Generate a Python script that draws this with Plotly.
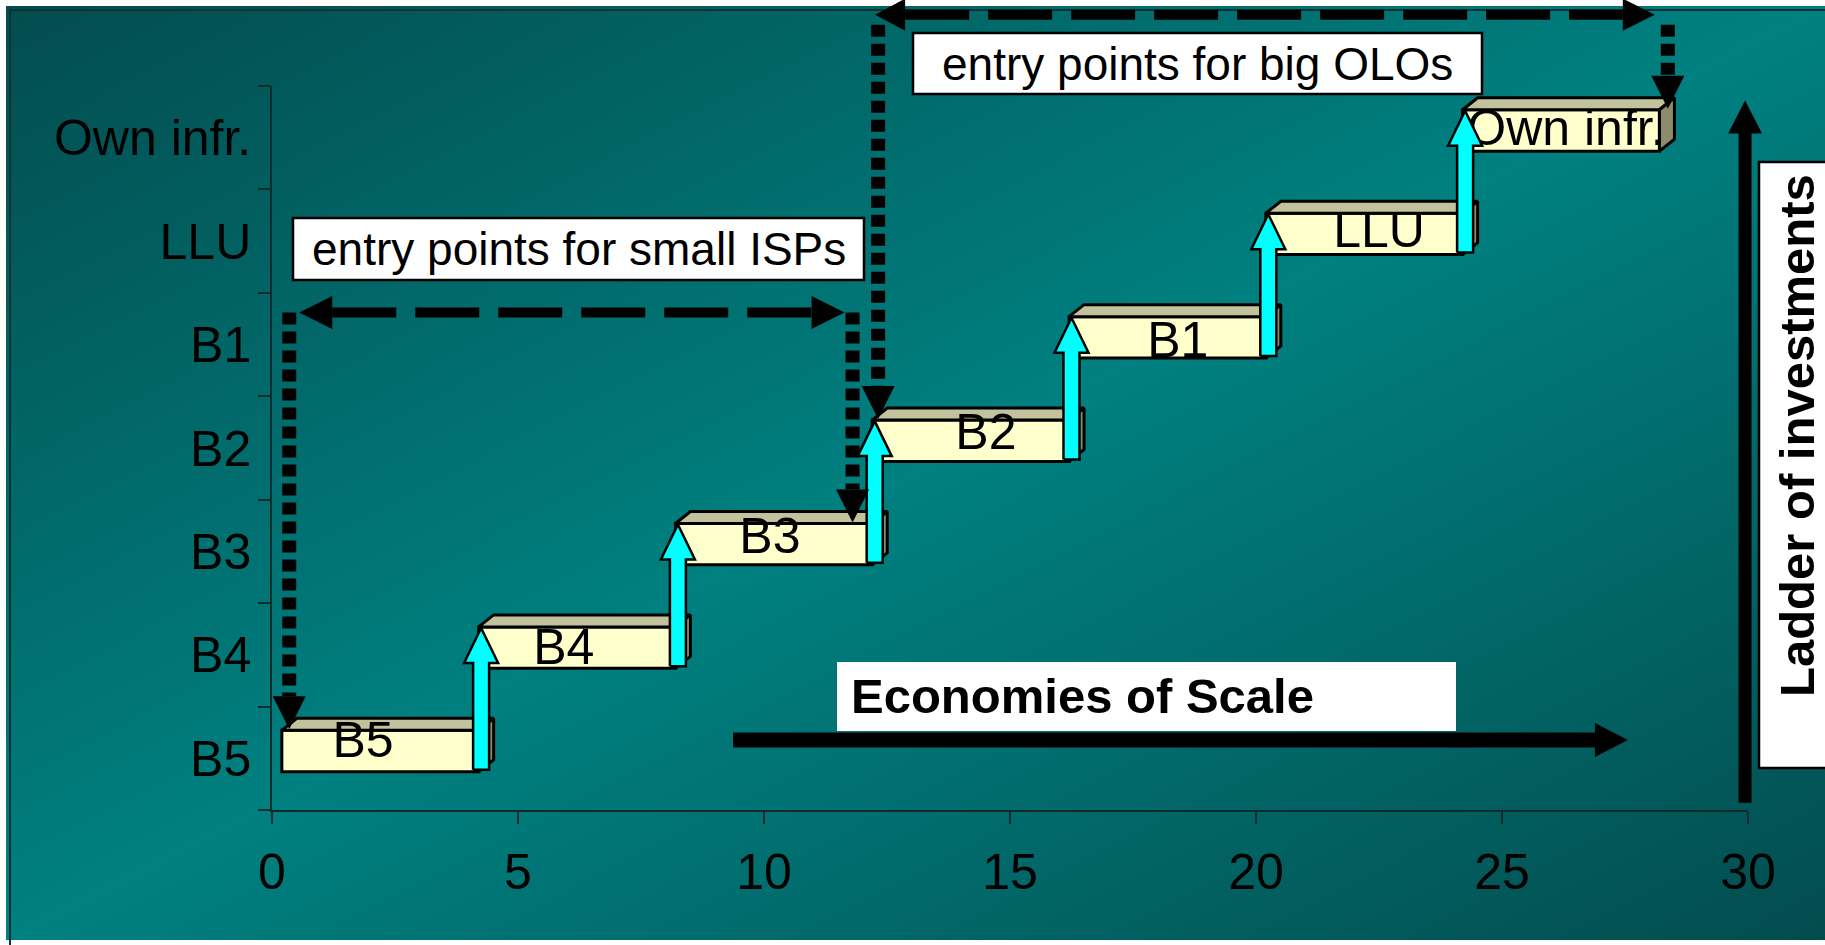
import base64
import plotly.graph_objects as go

# ---------------- data ----------------
levels = ["B5", "B4", "B3", "B2", "B1", "LLU", "Own infr."]
step_start = [0.2, 4.2, 8.2, 12.2, 16.2, 20.2, 24.2]
step_end = [4.2, 8.2, 12.2, 16.2, 20.2, 24.2, 28.2]
x_tick_values = [0, 5, 10, 15, 20, 25, 30]

small_isp_label = "entry points for small ISPs"
small_isp_x = [0.35, 11.8]
small_isp_to = ["B5", "B3"]
big_olo_label = "entry points for big OLOs"
big_olo_x = [12.32, 28.37]
big_olo_to = ["B2", "Own infr."]

x_axis_label = "Economies of Scale"
y_axis_label = "Ladder of investments"
economies_x = [9.37, 27.56]
ladder_y = [0.07, 6.86]

# ---------------- geometry / style ----------------
W, H = 1825, 945
PL, PR, PT, PB = 272, 1748, 86, 810
XR = [0, 30]
YR = [0, len(levels)]
UX = (PR - PL) / (XR[1] - XR[0])
UY = (PB - PT) / (YR[1] - YR[0])


def dx(px):
    return px / UX


def dy(px):
    return px / UY


X2 = [XR[0] - PL / UX, XR[1] + (W - PR) / UX]
Y2 = [YR[0] - (H - PB) / UY, YR[1] + PT / UY]

FONT = "Liberation Sans, Arial, Helvetica, sans-serif"
FACE_BOT, FACE_H = 0.37, 0.40
DEPTH_X, DEPTH_Y = dx(15), dy(12)
FRONT = "#FFFFCC"
TOP = "#C2C29C"
SIDE = "#8C8C6C"
CYAN = "#00FFFF"
OUT_W = 3
LABEL_DX = [-0.35, -0.27, -0.08, 0.31, 0.21, 0.30, 0.10]
LABEL_DY = [0.63, 0.53, 0.61, 0.61, 0.50, 0.56, 0.55]
Y_SMALL = 4.81
Y_BIG = 7.69
TICK_FONT = 50


def px_x(p):
    return p / W


def px_y(p):
    return 1 - p / H


fig = go.Figure()

# front faces of the steps (horizontal bars)
fig.add_trace(go.Bar(
    orientation="h",
    y=[k + FACE_BOT + FACE_H / 2 for k in range(len(levels))],
    x=[e - s for s, e in zip(step_start, step_end)],
    base=step_start,
    width=FACE_H,
    marker=dict(color=FRONT, line=dict(color="black", width=OUT_W)),
    hoverinfo="skip", showlegend=False, xaxis="x", yaxis="y",
))

# top and side faces (3D effect)
for k, (s, e) in enumerate(zip(step_start, step_end)):
    top = k + FACE_BOT + FACE_H
    bot = k + FACE_BOT
    fig.add_trace(go.Scatter(
        x=[s, s + DEPTH_X, e + DEPTH_X, e, s],
        y=[top, top + DEPTH_Y, top + DEPTH_Y, top, top],
        fill="toself", fillcolor=TOP, mode="lines",
        line=dict(color="black", width=OUT_W),
        hoverinfo="skip", showlegend=False, xaxis="x", yaxis="y"))
    fig.add_trace(go.Scatter(
        x=[e, e + DEPTH_X, e + DEPTH_X, e, e],
        y=[top, top + DEPTH_Y, bot + DEPTH_Y, bot, top],
        fill="toself", fillcolor=SIDE, mode="lines",
        line=dict(color="black", width=OUT_W),
        hoverinfo="skip", showlegend=False, xaxis="x", yaxis="y"))

# step labels
fig.add_trace(go.Scatter(
    x=[(s + e) / 2 + LABEL_DX[k] for k, (s, e) in enumerate(zip(step_start, step_end))],
    y=[k + LABEL_DY[k] for k in range(len(levels))],
    text=levels, mode="text", textposition="middle center",
    textfont=dict(family=FONT, size=TICK_FONT, color="black"),
    cliponaxis=False, hoverinfo="skip", showlegend=False, xaxis="x", yaxis="y"))


def up_arrow(xc, y0, y1, shaft_px, head_w_px, head_l_px):
    sw, hw, hl = dx(shaft_px / 2), dx(head_w_px / 2), dy(head_l_px)
    xs = [xc - sw, xc + sw, xc + sw, xc + hw, xc, xc - hw, xc - sw, xc - sw]
    ys = [y0, y0, y1 - hl, y1 - hl, y1, y1 - hl, y1 - hl, y0]
    return xs, ys


def poly(xs, ys, fill, lw=0, lc="black"):
    fig.add_trace(go.Scatter(
        x=xs, y=ys, fill="toself", fillcolor=fill, mode="lines",
        line=dict(color=lc, width=lw),
        hoverinfo="skip", showlegend=False, xaxis="x2", yaxis="y2"))


def line(xs, ys, width, dash="solid"):
    fig.add_trace(go.Scatter(
        x=xs, y=ys, mode="lines", line=dict(color="black", width=width, dash=dash),
        hoverinfo="skip", showlegend=False, xaxis="x2", yaxis="y2"))


# cyan climbing arrows
for k in range(len(levels) - 1):
    xs, ys = up_arrow(step_end[k] + 0.05, k + 0.39, k + 1 + 0.76, 16, 34, 35)
    poly(xs, ys, CYAN, lw=2.5)


def h_head(tip_x, y, direction, length_px=33, height_px=33):
    base = tip_x - direction * dx(length_px)
    h = dy(height_px / 2)
    poly([tip_x, base, base, tip_x], [y, y + h, y - h, y], "black")
    return base


def v_head_down(x, tip_y, length_px=33, width_px=33):
    base = tip_y + dy(length_px)
    w = dx(width_px / 2)
    poly([x, x - w, x + w, x], [tip_y, base, base, tip_y], "black")
    return base


DASH = "64px,19px"
DOT = "12px,7px"

# small ISPs bracket
lb = h_head(small_isp_x[0] + dx(10), Y_SMALL, -1)
rb = h_head(small_isp_x[1] - dx(8), Y_SMALL, 1)
line([lb, rb], [Y_SMALL, Y_SMALL], 10, DASH)
for xv, target in zip(small_isp_x, small_isp_to):
    tip = levels.index(target) + 0.78
    base = v_head_down(xv, tip)
    line([xv, xv], [Y_SMALL, base], 14, DOT)

# big OLOs bracket
lb = h_head(big_olo_x[0] - dx(3), Y_BIG, -1, 30, 32)
rb = h_head(big_olo_x[1] - dx(13), Y_BIG, 1, 32, 32)
line([lb, rb], [Y_BIG, Y_BIG], 10, DASH)
for xv, target in zip(big_olo_x, big_olo_to):
    tip = levels.index(target) + 0.78
    base = v_head_down(xv, tip)
    line([xv, xv], [Y_BIG - dy(10), base], 14, DOT)

# Economies of scale arrow
eb = h_head(economies_x[1], 0.677, 1, 33, 34)
line([economies_x[0], eb], [0.677, 0.677], 15)

# Ladder of investments arrow
lx = 29.94
xs, ys = up_arrow(lx, ladder_y[1] - dy(33) + 0.01, ladder_y[1], 0.1, 34, 33)
poly(xs, ys, "black")
line([lx, lx], [ladder_y[0], ladder_y[1] - dy(32)], 13)

# ---------------- background gradient ----------------
bw, bh = W - 6, 940 - 6
svg = (
    f'<svg xmlns="http://www.w3.org/2000/svg" width="{bw}" height="{bh}" '
    f'viewBox="0 0 {bw} {bh}" preserveAspectRatio="none">'
    '<defs><linearGradient id="g" x1="0" y1="0" x2="1" y2="1">'
    '<stop offset="0" stop-color="#034C4E"/>'
    '<stop offset="0.5" stop-color="#008080"/>'
    '<stop offset="1" stop-color="#034C4E"/>'
    '</linearGradient></defs>'
    f'<rect x="0" y="0" width="{bw}" height="{bh}" fill="url(#g)"/></svg>'
)
src = "data:image/svg+xml;base64," + base64.b64encode(svg.encode()).decode()

shapes = [
    dict(type="path", xref="paper", yref="paper",
         path=f"M {px_x(10)} {px_y(945)} L {px_x(10)} {px_y(10)} L 1 {px_y(10)}",
         line=dict(color="#0E3232", width=2), layer="below"),
]


def rect(x0, y0, x1, y1, border=True):
    shapes.append(dict(type="rect", xref="paper", yref="paper",
                       x0=px_x(x0), x1=px_x(x1), y0=px_y(y1), y1=px_y(y0),
                       fillcolor="white",
                       line=dict(color="black", width=2.5 if border else 0),
                       layer="above"))


rect(293, 218, 864, 280)
rect(913, 33, 1482, 94)
rect(837, 662, 1456, 731, border=False)
rect(1759, 162, 1840, 768)

annotations = [
    dict(x=px_x(578.5), y=px_y(249), xref="paper", yref="paper", text=small_isp_label,
         showarrow=False, xanchor="center", yanchor="middle",
         font=dict(family=FONT, size=46, color="black")),
    dict(x=px_x(1197.5), y=px_y(63.5), xref="paper", yref="paper", text=big_olo_label,
         showarrow=False, xanchor="center", yanchor="middle",
         font=dict(family=FONT, size=46, color="black")),
    dict(x=px_x(849), y=px_y(696), xref="paper", yref="paper",
         text="<b>" + x_axis_label + "</b>",
         showarrow=False, xanchor="left", yanchor="middle",
         font=dict(family=FONT, size=49, color="black")),
    dict(x=px_x(1797), y=px_y(436), xref="paper", yref="paper",
         text="<b>" + y_axis_label + "</b>", textangle=-90,
         showarrow=False, xanchor="center", yanchor="middle",
         font=dict(family=FONT, size=49, color="black")),
]

AX_COLOR = "#102C2C"
fig.update_layout(
    width=W, height=H, margin=dict(l=0, r=0, t=0, b=0),
    paper_bgcolor="white", plot_bgcolor="rgba(0,0,0,0)",
    showlegend=False, hovermode=False, barmode="overlay",
    font=dict(family=FONT, color="black"),
    xaxis=dict(domain=[PL / W, PR / W], range=XR, tickmode="array",
               tickvals=x_tick_values, ticks="outside", ticklen=12,
               tickcolor=AX_COLOR, tickwidth=1.5, showline=True,
               linecolor=AX_COLOR, linewidth=1.5, showgrid=False, zeroline=False,
               tickfont=dict(family=FONT, size=TICK_FONT, color="black"),
               ticklabelstandoff=5, automargin=False, fixedrange=True),
    yaxis=dict(domain=[1 - PB / H, 1 - PT / H], range=YR, tickmode="array",
               tickvals=[k + 0.5 for k in range(len(levels))], ticktext=levels,
               ticks="", showline=True, linecolor=AX_COLOR, linewidth=1.5,
               minor=dict(tickmode="array", tickvals=list(range(len(levels) + 1)),
                          ticks="outside", ticklen=12, tickcolor=AX_COLOR,
                          tickwidth=1.5, showgrid=False),
               showgrid=False, zeroline=False,
               tickfont=dict(family=FONT, size=TICK_FONT, color="black"),
               ticklabelstandoff=9, automargin=False, fixedrange=True),
    xaxis2=dict(domain=[0, 1], range=X2, anchor="y2", visible=False, fixedrange=True),
    yaxis2=dict(domain=[0, 1], range=Y2, anchor="x2", visible=False, fixedrange=True),
    images=[dict(source=src, xref="paper", yref="paper", x=px_x(6), y=px_y(6),
                 sizex=bw / W, sizey=bh / H, xanchor="left", yanchor="top",
                 sizing="stretch", layer="below")],
    shapes=shapes,
    annotations=annotations,
)

fig.write_html("out.html", config={"displayModeBar": False},
               post_script="document.body.style.margin='0';document.body.style.overflow='hidden';")
